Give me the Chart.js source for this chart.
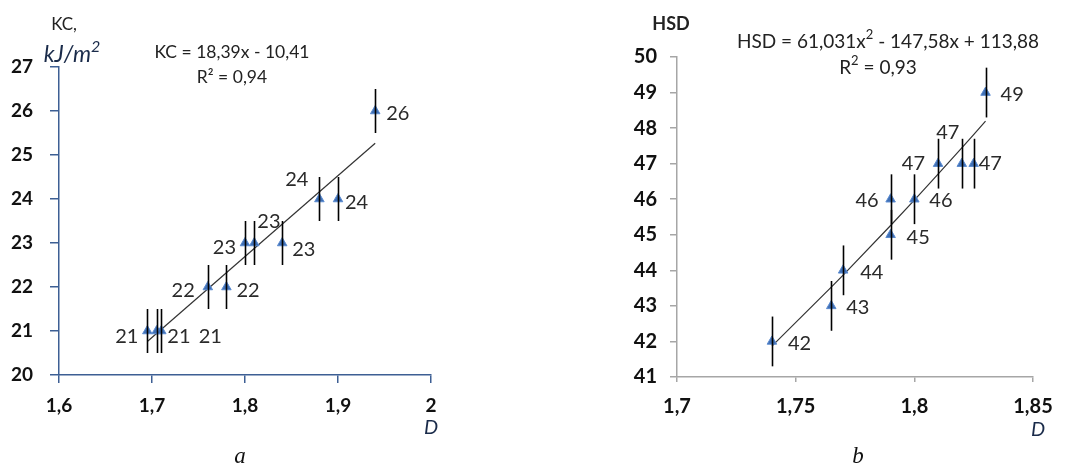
<!DOCTYPE html>
<html>
<head>
<meta charset="utf-8">
<script src="https://cdn.jsdelivr.net/npm/chart.js@4.4.1/dist/chart.umd.min.js"></script>
<style>
body { margin: 0; background: #fff; }
canvas { position: absolute; top: 0; }
#chart-a { left: 0; }
#chart-b { left: 530px; }
</style>
</head>
<body>
<canvas id="chart-a" width="530" height="467"></canvas>
<canvas id="chart-b" width="537" height="467"></canvas>
<script>
// chart a: KC against D
var kcD = [1.695, 1.705, 1.71, 1.76, 1.78, 1.80, 1.81, 1.84, 1.88, 1.90, 1.94];
var kcValues = [21, 21, 21, 22, 22, 23, 23, 23, 24, 24, 26];
var kcError = 0.5;
var kcTicksX = [1.6, 1.7, 1.8, 1.9, 2];
var kcTicksY = [20, 21, 22, 23, 24, 25, 26, 27];
var kcTrend = [18.39, -10.41];            // slope, intercept (from the chart)

// chart b: HSD against D
var hsdD = [1.74, 1.765, 1.77, 1.79, 1.79, 1.80, 1.81, 1.82, 1.825, 1.83];
var hsdValues = [42, 43, 44, 45, 46, 46, 47, 47, 47, 49];
var hsdError = 0.7;
var hsdTicksX = [1.7, 1.75, 1.8, 1.85];
var hsdTicksY = [41, 42, 43, 44, 45, 46, 47, 48, 49, 50];
var hsdTrend = [61.031, -147.58, 113.88]; // a, b, c (from the chart)

function fmt(v) {
    return String(Math.round(v * 1000) / 1000).replace('.', ',');
}

function pairs(xs, ys) {
    return xs.map(function (x, i) { return { x: x, y: ys[i] }; });
}

// draws text made of parts; a part starting with '^' is a superscript
function drawParts(ctx, t) {
    var base = t.size, style = t.style || '';
    var parts = t.text.split('|').map(function (s) {
        var sup = s.charAt(0) === '^';
        return { s: sup ? s.slice(1) : s, sup: sup,
                 font: style + ' ' + (sup ? Math.round(base * 0.68) : base) + 'px Lato' };
    });
    var total = 0;
    parts.forEach(function (p) { ctx.font = p.font; p.w = ctx.measureText(p.s).width; total += p.w; });
    var x = t.x - total / 2;
    ctx.textAlign = 'left';
    parts.forEach(function (p) {
        ctx.font = p.font;
        ctx.fillText(p.s, x, p.sup ? t.y - base * 0.36 : t.y);
        x += p.w;
    });
}

var extrasPlugin = {
    id: 'extras',
    afterDatasetsDraw: function (chart, args, opts) {
        var ctx = chart.ctx, xs = chart.scales.x, ys = chart.scales.y;
        var pts = chart.data.datasets[0].data;
        ctx.save();
        // error bars
        ctx.strokeStyle = '#000';
        ctx.lineWidth = 1.6;
        pts.forEach(function (p) {
            var px = Math.round(xs.getPixelForValue(p.x)) + 0.5;
            ctx.beginPath();
            ctx.moveTo(px, ys.getPixelForValue(p.y - opts.err));
            ctx.lineTo(px, ys.getPixelForValue(p.y + opts.err));
            ctx.stroke();
        });
        // point labels
        ctx.font = opts.labelFont;
        ctx.fillStyle = '#2a2a2a';
        ctx.textBaseline = 'middle';
        pts.forEach(function (p, i) {
            var o = opts.labelPos[i];
            ctx.textAlign = o[2];
            ctx.fillText(String(p.y), xs.getPixelForValue(p.x) + o[0], ys.getPixelForValue(p.y) + o[1]);
        });
        // titles, equations
        opts.texts.forEach(function (t) {
            ctx.fillStyle = t.color || '#222';
            drawParts(ctx, t);
        });
        ctx.restore();
    }
};

function axis(min, max, ticks, color, tickLen, pad, size, fontSize, isX) {
    return {
        type: 'linear',
        min: min,
        max: max,
        afterBuildTicks: function (s) {
            s.ticks = ticks.map(function (v) { return { value: v }; });
        },
        afterFit: function (s) {
            if (isX) { s.height = size; } else { s.width = size; }
        },
        ticks: {
            callback: function (v) { return fmt(v); },
            font: { family: 'Lato', size: fontSize, weight: 'bold' },
            color: '#111',
            padding: pad,
            autoSkip: false,
            maxRotation: 0
        },
        grid: { drawOnChartArea: false, drawTicks: true, tickLength: tickLen, color: color, lineWidth: 1.5 },
        border: { color: color, width: 1.5 }
    };
}

function makeChart(id, points, trend, err, xScale, yScale, padding, labelFont, labelPos, texts) {
    return new Chart(document.getElementById(id), {
        type: 'scatter',
        data: {
            datasets: [{
                data: points,
                pointStyle: 'triangle',
                radius: 5.5,
                backgroundColor: '#3f6fb5',
                borderColor: '#5b8bd0',
                borderWidth: 1,
                order: 1
            }, {
                data: trend,
                showLine: true,
                pointRadius: 0,
                borderColor: '#333',
                borderWidth: 1.2,
                order: 2
            }]
        },
        options: {
            responsive: false,
            animation: false,
            devicePixelRatio: 1,
            layout: { padding: padding },
            scales: { x: xScale, y: yScale },
            plugins: {
                legend: { display: false },
                tooltip: { enabled: false },
                extras: { err: err, labelFont: labelFont, labelPos: labelPos, texts: texts }
            }
        },
        plugins: [extrasPlugin]
    });
}

// trend lines from the equations shown on the charts
var kcLine = [kcD[0], kcD[kcD.length - 1]].map(function (x) {
    return { x: x, y: kcTrend[0] * x + kcTrend[1] };
});
var hsdLine = hsdD.filter(function (x, i) { return hsdD.indexOf(x) === i; }).map(function (x) {
    return { x: x, y: hsdTrend[0] * x * x + hsdTrend[1] * x + hsdTrend[2] };
});

var blueAxis = '#3d5f94';
var greyAxis = '#a6a6a6';

makeChart('chart-a', pairs(kcD, kcValues), kcLine, kcError,
    axis(1.6, 2, kcTicksX, blueAxis, 8, 11, 92, 19, true),
    axis(20, 27, kcTicksY, blueAxis, 9, 17, 59, 19, false),
    { left: 0, top: 67, right: 99, bottom: 0 },
    '20px Lato',
    [[-9, 6, 'right'], [42, 6, 'left'], [6, 6, 'left'], [-13, 4, 'right'], [10, 4, 'left'],
     [-9, 5, 'right'], [3, -21, 'left'], [10, 7, 'left'], [-11, -19, 'right'], [7, 4, 'left'], [11, 3, 'left']],
    [
        { text: 'KC,', x: 64, y: 25, size: 17 },
        { text: 'kJ/m|^2', x: 72, y: 55, size: 23, style: 'italic', color: '#1a2b4a' },
        { text: 'KC = 18,39x - 10,41', x: 232, y: 52, size: 17.5 },
        { text: 'R² = 0,94', x: 232, y: 77, size: 17.5 },
        { text: 'D', x: 431, y: 428, size: 20, style: 'italic', color: '#1a2b4a' }
    ]);

makeChart('chart-b', pairs(hsdD, hsdValues), hsdLine, hsdError,
    axis(1.7, 1.85, hsdTicksX, greyAxis, 5, 13, 90, 20, true),
    axis(41, 50, hsdTicksY, greyAxis, 7, 13, 147, 20, false),
    { left: 0, top: 57, right: 34, bottom: 0 },
    '20px Lato',
    [[16, 2, 'left'], [15, 2, 'left'], [17, 2, 'left'], [16, 3, 'left'], [-12, 1, 'right'],
     [15, 1, 'left'], [-13, 0, 'right'], [-14, -31, 'center'], [5, 0, 'left'], [15, 2, 'left']],
    [
        { text: 'HSD', x: 141, y: 24, size: 18, style: 'bold' },
        { text: 'HSD = 61,031x|^2| - 147,58x + 113,88', x: 358, y: 42, size: 19 },
        { text: 'R|^2| = 0,93', x: 348, y: 68, size: 19 },
        { text: 'D', x: 508, y: 430, size: 20, style: 'italic', color: '#1a2b4a' }
    ]);

// figure captions below the charts
(function () {
    [['chart-a', 'a', 240], ['chart-b', 'b', 328]].forEach(function (c) {
        var ctx = document.getElementById(c[0]).getContext('2d');
        ctx.font = 'italic 23px "Liberation Serif"';
        ctx.fillStyle = '#111';
        ctx.textAlign = 'center';
        ctx.textBaseline = 'middle';
        ctx.fillText(c[1], c[2], 457);
    });
})();
</script>
</body>
</html>
